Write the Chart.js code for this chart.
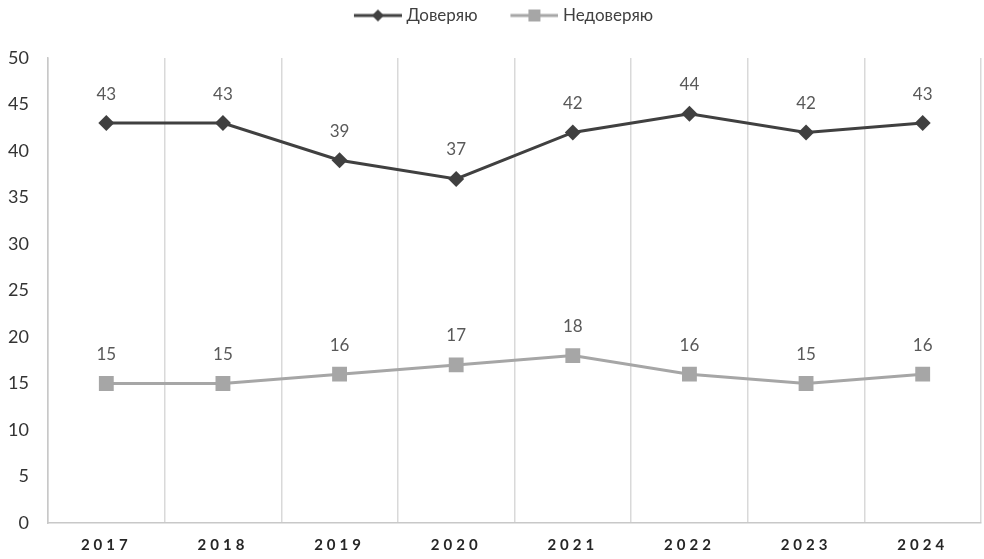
<!DOCTYPE html>
<html>
<head>
<meta charset="utf-8">
<script src="https://cdn.jsdelivr.net/npm/chart.js@4.4.2/dist/chart.umd.min.js"></script>
<style>
  html, body { margin: 0; padding: 0; background: #fff; }
  #wrap { width: 984px; height: 559px; }
</style>
</head>
<body>
<div id="wrap"><canvas id="grafico"></canvas></div>
<script>
// Годы и значения серий
const years = ['2017', '2018', '2019', '2020', '2021', '2022', '2023', '2024'];
const trust = [43, 43, 39, 37, 42, 44, 42, 43];
const distrust = [15, 15, 16, 17, 18, 16, 15, 16];

const darkColor = '#404040';
const lightColor = '#a6a6a6';

// Значок легенды: линия с маркером посередине
function legendIcon(color, shape) {
  const c = document.createElement('canvas');
  c.width = 78; c.height = 16;
  const g = c.getContext('2d');
  g.strokeStyle = color;
  g.fillStyle = color;
  g.lineWidth = 3;
  g.beginPath();
  g.moveTo(30, 8); g.lineTo(78, 8);
  g.stroke();
  const cx = 54;
  g.beginPath();
  if (shape === 'diamond') {
    g.moveTo(cx, 2); g.lineTo(cx + 6, 8); g.lineTo(cx, 14); g.lineTo(cx - 6, 8);
  } else {
    g.rect(cx - 6, 2, 12, 12);
  }
  g.closePath();
  g.fill();
  return c;
}

// Подписи значений над точками
const valueLabels = {
  id: 'valueLabels',
  afterDatasetsDraw(chart) {
    const ctx = chart.ctx;
    ctx.save();
    ctx.font = '17px Lato, sans-serif';
    ctx.fillStyle = '#595959';
    ctx.textAlign = 'center';
    ctx.textBaseline = 'middle';
    chart.data.datasets.forEach((ds, i) => {
      chart.getDatasetMeta(i).data.forEach((pt, j) => {
        ctx.fillText(String(ds.data[j]), pt.x, pt.y - 29);
      });
    });
    ctx.restore();
  }
};

// Разрядка букв в подписях годов и высота блока легенды
const axisTweaks = {
  id: 'axisTweaks',
  beforeLayout(chart) {
    const lg = chart.legend;
    if (lg && !lg._tall) {
      const fit = lg.fit;
      lg.fit = function () { fit.call(this); this.height = 58; };
      lg._tall = true;
    }
  },
  afterLayout(chart) {
    const sc = chart.scales.x;
    if (sc._spaced) return;
    const draw = sc.drawLabels;
    sc.drawLabels = function (area) {
      const c = this.ctx;
      c.save();
      c.letterSpacing = '4px';
      draw.call(this, area);
      c.restore();
    };
    sc._spaced = true;
  }
};

new Chart(document.getElementById('grafico'), {
  type: 'line',
  data: {
    labels: years,
    datasets: [{
      label: 'Доверяю',
      data: trust,
      borderColor: darkColor,
      backgroundColor: darkColor,
      borderWidth: 3,
      pointStyle: 'rectRot',
      pointRadius: 8,
      pointHoverRadius: 8,
      pointBorderWidth: 0,
      tension: 0
    }, {
      label: 'Недоверяю',
      data: distrust,
      borderColor: lightColor,
      backgroundColor: lightColor,
      borderWidth: 3,
      pointStyle: 'rect',
      pointRadius: 10.5,
      pointHoverRadius: 10.5,
      pointBorderWidth: 0,
      tension: 0
    }]
  },
  options: {
    responsive: true,
    maintainAspectRatio: false,
    animation: false,
    layout: { autoPadding: false, padding: { left: 0, right: 3, top: 0, bottom: 0 } },
    plugins: {
      tooltip: { enabled: false },
      legend: {
        position: 'top',
        labels: {
          usePointStyle: true,
          pointStyleWidth: 70,
          padding: 7,
          color: darkColor,
          font: { family: 'Lato, sans-serif', size: 17 },
          generateLabels: (chart) => [
            { text: 'Доверяю', pointStyle: legendIcon(darkColor, 'diamond'), fontColor: darkColor, datasetIndex: 0, lineWidth: 0, strokeStyle: 'transparent', fillStyle: darkColor },
            { text: 'Недоверяю', pointStyle: legendIcon(lightColor, 'square'), fontColor: darkColor, datasetIndex: 1, lineWidth: 0, strokeStyle: 'transparent', fillStyle: lightColor }
          ]
        }
      }
    },
    scales: {
      x: {
        offset: true,
        afterFit: (scale) => {
          scale.height = 36;
          scale.paddingLeft = 0;
          scale.paddingRight = 0;
        },
        grid: { offset: true, color: '#d9d9d9', lineWidth: 1.5, drawTicks: false },
        border: { display: true, color: '#c8c8c8', width: 1.5 },
        ticks: {
          color: '#262626',
          padding: 13,
          maxRotation: 0,
          font: { family: 'Lato, sans-serif', size: 15, weight: 'bold' }
        }
      },
      y: {
        min: 0,
        max: 50,
        afterFit: (scale) => { scale.width = 48; },
        grid: { display: false, drawTicks: false },
        border: { display: true, color: '#c8c8c8', width: 1.5 },
        ticks: {
          stepSize: 5,
          color: '#333333',
          padding: 19,
          font: { family: 'Lato, sans-serif', size: 18 }
        }
      }
    }
  },
  plugins: [valueLabels, axisTweaks]
});
</script>
</body>
</html>
